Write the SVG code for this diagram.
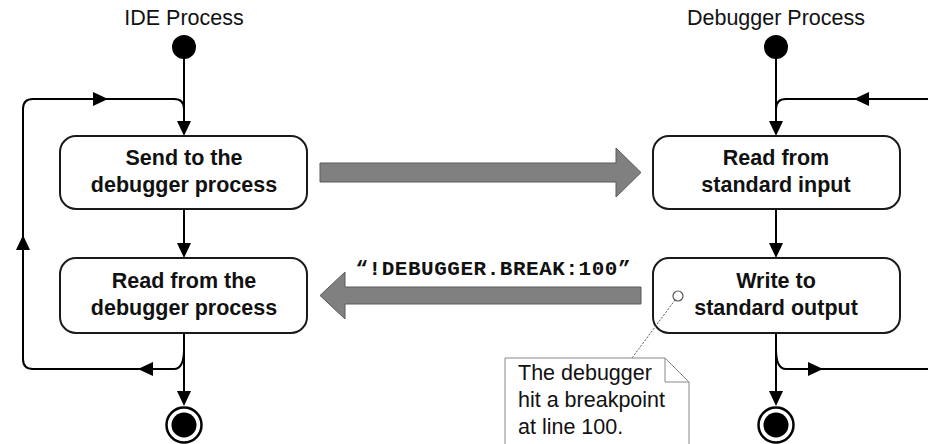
<svg xmlns="http://www.w3.org/2000/svg" width="928" height="444" viewBox="0 0 928 444">
<defs>
<style>
.t{font-family:"Liberation Sans",Arial,sans-serif;font-size:21.5px;fill:#111}
.b{font-weight:bold;text-anchor:middle}
.box{fill:#fff;stroke:#1a1a1a;stroke-width:2}
.ln{fill:none;stroke:#000;stroke-width:2}
.ah{fill:#000}
.big{fill:#808080;stroke:#5a5a5a;stroke-width:1}
</style>
</defs>
<rect width="928" height="444" fill="#fff"/>
<text class="t" x="184" y="25" text-anchor="middle">IDE Process</text>
<text class="t" x="776" y="25" text-anchor="middle">Debugger Process</text>

<g id="connectors">
<!-- left column -->
<path class="ln" d="M184 47 V122"/>
<path class="ah" d="M177 121 L191 121 L184 136 Z"/>
<path class="ln" d="M184 209 V244"/>
<path class="ah" d="M177 243 L191 243 L184 258 Z"/>
<path class="ln" d="M184 333 V392"/>
<path class="ah" d="M177 391 L191 391 L184 406 Z"/>
<path class="ln" d="M184 349 Q184 369 174 369 H33 Q23 369 23 359 V109 Q23 99 33 99 H174 Q184 99 184 109"/>
<path class="ah" d="M93 92 L93 106 L108 99 Z"/>
<path class="ah" d="M153 362 L153 376 L138 369 Z"/>
<path class="ah" d="M16 250 L30 250 L23 235 Z"/>
<!-- right column -->
<path class="ln" d="M776 47 V122"/>
<path class="ah" d="M769 121 L783 121 L776 136 Z"/>
<path class="ln" d="M776 209 V244"/>
<path class="ah" d="M769 243 L783 243 L776 258 Z"/>
<path class="ln" d="M776 333 V392"/>
<path class="ah" d="M769 391 L783 391 L776 406 Z"/>
<path class="ln" d="M776 119 V109 Q776 99 786 99 H932"/>
<path class="ln" d="M776 349 Q776 369 786 369 H932"/>
<path class="ah" d="M869 92 L869 106 L854 99 Z"/>
<path class="ah" d="M808 362 L808 376 L823 369 Z"/>
<!-- message arrows -->
<path class="big" d="M320 163 H616 V148 L641 172.5 L616 197 V182 H320 Z"/>
<path class="big" d="M641 287 H345 V272 L320 295.5 L345 319 V304 H641 Z"/>
<text x="493" y="275" text-anchor="middle" font-family="'Liberation Mono','Courier New',monospace" font-weight="bold" font-size="21" fill="#111" textLength="275" lengthAdjust="spacing">“!DEBUGGER.BREAK:100”</text>
</g>

<g id="start-ide"><circle cx="184" cy="47" r="12" fill="#000"/></g>
<g id="start-dbg"><circle cx="776" cy="47" r="12" fill="#000"/></g>

<g id="send">
<rect class="box" x="60" y="136" width="247" height="73" rx="16"/>
<text class="t b" x="184" y="165">Send to the</text>
<text class="t b" x="184" y="192">debugger process</text>
</g>
<g id="readdbg">
<rect class="box" x="60" y="258" width="247" height="75" rx="16"/>
<text class="t b" x="184" y="288">Read from the</text>
<text class="t b" x="184" y="315">debugger process</text>
</g>
<g id="readstdin">
<rect class="box" x="653" y="136" width="247" height="73" rx="16"/>
<text class="t b" x="776" y="165">Read from</text>
<text class="t b" x="776" y="192">standard input</text>
</g>
<g id="writestdout">
<rect class="box" x="653" y="258" width="247" height="75" rx="16"/>
<text class="t b" x="776" y="288">Write to</text>
<text class="t b" x="776" y="315">standard output</text>
</g>

<g id="end-ide">
<circle cx="184" cy="425" r="17.5" fill="#fff" stroke="#000" stroke-width="2.5"/>
<circle cx="184" cy="425" r="12.5" fill="#000"/>
</g>
<g id="end-dbg">
<circle cx="776" cy="425" r="17.5" fill="#fff" stroke="#000" stroke-width="2.5"/>
<circle cx="776" cy="425" r="12.5" fill="#000"/>
</g>

<g id="note-link">
<path d="M675 300 L632 358" fill="none" stroke="#555" stroke-width="1" stroke-dasharray="2,1.5"/>
<circle cx="678" cy="296" r="5" fill="#fff" stroke="#555" stroke-width="1.2"/>
</g>

<g id="note">
<path d="M505 450 V358 H665 L689 382 V450" fill="#fff" stroke="#888" stroke-width="1"/>
<path d="M665 358 V382 H689" fill="none" stroke="#888" stroke-width="1"/>
<text class="t" x="518" y="380">The debugger</text>
<text class="t" x="518" y="407">hit a breakpoint</text>
<text class="t" x="518" y="434">at line 100.</text>
</g>
</svg>
